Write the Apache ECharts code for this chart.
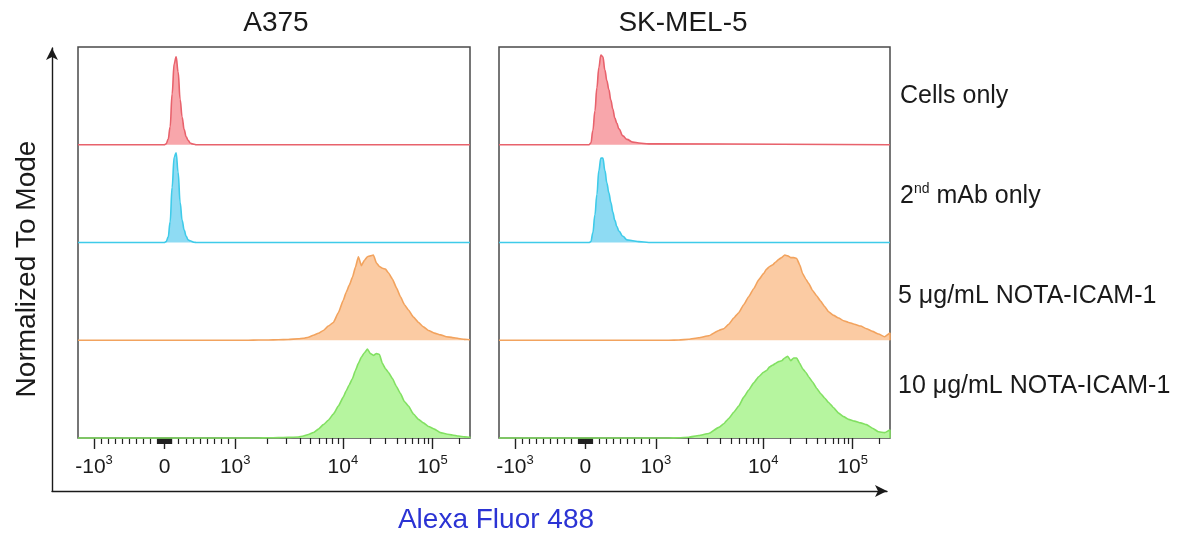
<!DOCTYPE html>
<html><head><meta charset="utf-8">
<script src="https://cdn.jsdelivr.net/npm/echarts@6/dist/echarts.min.js"></script>
<style>html,body{margin:0;padding:0;background:#fff}#c{width:1184px;height:537px}</style>
</head><body><div id="c"></div>
<script>
// ---------- text ----------
const panelTitles = ['A375', 'SK-MEL-5'];
const rowLabels = ['Cells only', '2nd mAb only', '5 μg/mL NOTA-ICAM-1', '10 μg/mL NOTA-ICAM-1'];
const yTitle = 'Normalized To Mode';
const xTitle = 'Alexa Fluor 488';

// ---------- axis (biexponential display) ----------
const axisMin = -1227;
const axisMax = 262144;
const majorTicks = [-1000, 0, 1000, 10000, 100000];
const majorTickLabels = [['-10', '3'], ['0', ''], ['10', '3'], ['10', '4'], ['10', '5']];
const minorTicks = [-900, -800, -700, -600, -500, -400, -300, -200, -100,
  -90, -80, -70, -60, -50, -40, -30, -20, -10, 10, 20, 30, 40, 50, 60, 70, 80, 90,
  100, 200, 300, 400, 500, 600, 700, 800, 900,
  2000, 3000, 4000, 5000, 6000, 7000, 8000, 9000,
  20000, 30000, 40000, 50000, 60000, 70000, 80000, 90000, 200000];

// ---------- histogram bins (fluorescence) ----------
const binsLow = [-7, 21, 50, 78, 106, 135, 163, 191, 220, 248, 277, 305, 333, 362, 390, 418, 447, 475, 532, 589, 674, 759, 901];
const binsHigh = [1070, 1320, 1640, 2030, 2510, 3110, 3860, 4290, 4780, 5320, 5920, 6590, 7330, 8160, 9080,
  10100, 10900, 11800, 12800, 13800, 14900, 16100, 17400, 18800, 20300, 21900, 23700, 25600, 27600, 29900,
  32200, 35700, 39600, 43900, 48700, 53900, 61400, 69800, 79300, 90200, 105000, 123000, 143000, 167000,
  195000, 228000, 262000];

// ---------- normalized counts (% of mode) ----------
const a375Cells = [0, 1, 6, 20, 57, 91, 99, 82, 51, 31, 17, 9, 5, 2, 1, 0.5, 0, 0, 0, 0, 0, 0, 0];
const a375Second = [0, 1, 6, 23, 62, 96, 101, 79, 45, 25, 14, 7, 3, 2, 1, 0.3, 0, 0, 0, 0, 0, 0, 0];
const a375Nota5 = [0, 0, 0.2, 0.3, 0.6, 0.9, 1.7, 2.2, 3.4, 5.6, 7.8, 11, 16, 20, 31, 45, 54, 62, 71, 82, 94, 84, 90, 94, 95,
  96, 87, 83, 81, 80, 76, 69, 59, 49, 40, 34, 26, 20, 15, 11, 8, 6, 4, 3, 2, 1, 0.6];
const a375Nota10 = [0, 0, 0, 0.2, 0.4, 0.7, 1.1, 2.2, 3.9, 6.2, 10, 15, 20, 27, 36, 46, 53, 60, 67, 76, 84, 91, 96, 100, 95,
  93, 95, 94, 84, 78, 74, 67, 58, 50, 41, 36, 27, 21, 17, 13, 10, 6, 4.5, 3.4, 2.2, 1.3, 0.8];
const skCells = [0, 0, 0, 2, 16, 38, 64, 87, 101, 99, 84, 72, 62, 50, 40, 30, 24, 18, 10, 6, 3, 2, 1];
const skSecond = [0, 0, 0, 1, 11, 31, 54, 81, 95, 95, 81, 67, 56, 45, 34, 25, 18, 13, 7, 3, 2, 1, 0];
const skNota5 = [0, 0, 0.3, 1.1, 2.8, 5, 11, 13, 18, 25, 31, 40, 49, 58, 68, 75, 80, 83, 85, 88, 91, 93, 96, 95, 93,
  93, 92, 85, 75, 69, 64, 56, 50, 44, 38, 32, 28, 25, 22, 20, 18, 16, 13, 10, 7, 4, 8];
const skNota10 = [0, 0, 0.2, 0.9, 2.8, 5, 12, 16, 22, 29, 36, 46, 54, 62, 69, 74, 76, 80, 82, 84, 86, 87, 90, 92, 87,
  90, 90, 84, 78, 74, 69, 63, 56, 50, 45, 40, 34, 28, 24, 21, 19, 17, 15, 11, 7, 6, 9];

// ---------- styles ----------
const lineColors = ['#e8626c', '#3fcbe9', '#f2a35e', '#82e062'];
const fillColors = ['#f8a6ab', '#8edbf3', '#fbcba3', '#b6f59f'];
const FONT = '"Liberation Sans", Arial, Helvetica, sans-serif';

// biexponential-like display transform (linear around 0, log above 10^3)
function biex(v) {
  if (v < 1000) return 86.5 + 0.0705 * v;
  const l = Math.log10(v);
  if (l <= 4) return 157 + 107.5 * (l - 3);
  return 264.5 + 89.5 * (l - 4);
}

const panelData = [
  [[binsLow, a375Cells], [binsLow, a375Second], [binsHigh, a375Nota5], [binsHigh, a375Nota10]],
  [[binsLow, skCells], [binsLow, skSecond], [binsHigh, skNota5], [binsHigh, skNota10]]
];

const panelLeft = [78, 499];
const panelWidth = [392, 391];
const panelTop = 47, panelHeight = 391;
const rowH = panelHeight / 4;

const grid = [], xAxis = [], yAxis = [], series = [];
const xMin = biex(axisMin), xMax = biex(axisMax);

// outer arrow axes
grid.push({ left: 52, top: 48, right: 1184 - 887, bottom: 537 - 491, show: false });
xAxis.push({ gridIndex: 0, type: 'value', min: 0, max: 1, axisLine: { show: true, onZero: false, symbol: ['none', 'arrow'], symbolSize: [9, 12], lineStyle: { color: '#1a1a1a', width: 1.4 } }, axisTick: { show: false }, axisLabel: { show: false }, splitLine: { show: false } });
yAxis.push({ gridIndex: 0, type: 'value', min: 0, max: 1, axisLine: { show: true, onZero: false, symbol: ['none', 'arrow'], symbolSize: [9, 12], lineStyle: { color: '#1a1a1a', width: 1.4 } }, axisTick: { show: false }, axisLabel: { show: false }, splitLine: { show: false } });

// panel frames
for (let p = 0; p < 2; p++) {
  const gi = grid.length;
  grid.push({ left: panelLeft[p], top: panelTop, width: panelWidth[p], height: panelHeight, show: true, borderColor: '#4a4a4a', borderWidth: 1.5, backgroundColor: 'transparent' });
  xAxis.push({ gridIndex: gi, type: 'value', min: 0, max: 1, show: false });
  yAxis.push({ gridIndex: gi, type: 'value', min: 0, max: 1, show: false });
}

const majorPos = majorTicks.map(biex);
function fmtMajor(val) {
  let best = 0, d = Infinity;
  majorPos.forEach((p, i) => { if (Math.abs(p - val) < d) { d = Math.abs(p - val); best = i; } });
  const lab = majorTickLabels[best];
  return '{b|' + lab[0] + '}' + (lab[1] ? '{s|' + lab[1] + '}' : '');
}

for (let p = 0; p < 2; p++) {
  for (let r = 0; r < 4; r++) {
    const gi = grid.length;
    grid.push({ left: panelLeft[p], top: panelTop + r * rowH, width: panelWidth[p], height: rowH, show: false });
    const isBottom = r === 3;
    const xi = xAxis.length;
    xAxis.push({
      gridIndex: gi, type: 'value', min: xMin, max: xMax, position: 'bottom',
      show: isBottom,
      axisLine: { show: false },
      splitLine: { show: false },
      axisTick: { show: isBottom, customValues: majorPos, length: 11, lineStyle: { color: '#222', width: 1.4 } },
      axisLabel: {
        show: isBottom, customValues: majorPos, margin: 16, formatter: fmtMajor,
        rich: {
          b: { fontFamily: FONT, fontSize: 21, color: '#1a1a1a', lineHeight: 26 },
          s: { fontFamily: FONT, fontSize: 13, color: '#1a1a1a', verticalAlign: 'top', lineHeight: 15 }
        }
      }
    });
    if (isBottom) {
      xAxis.push({
        gridIndex: gi, type: 'value', min: xMin, max: xMax, position: 'bottom',
        axisLine: { show: false }, splitLine: { show: false },
        axisTick: { show: true, customValues: minorTicks.map(biex), length: 6, lineStyle: { color: '#222', width: 1.2 } },
        axisLabel: { show: false }
      });
    }
    yAxis.push({ gridIndex: gi, type: 'value', min: 0, max: 110, show: false });
    const [bins, counts] = panelData[p][r];
    const data = [[xMin, 0]].concat(bins.map((b, i) => [biex(b), counts[i]]));
    if (data[data.length - 1][0] < xMax) data.push([xMax, 0]);
    series.push({
      type: 'line', xAxisIndex: xi, yAxisIndex: yAxis.length - 1,
      data: data, symbol: 'none',
      smooth: r < 2 ? 0.4 : 0.15, smoothMonotone: 'x',
      lineStyle: { color: lineColors[r], width: 1.6 },
      areaStyle: { color: fillColors[r], opacity: 1 },
      silent: true, animation: false, clip: false
    });
  }
}

const graphic = [
  { type: 'text', x: 276, y: 23, style: { text: panelTitles[0], font: '28px ' + FONT, fill: '#1a1a1a', align: 'center', verticalAlign: 'middle' } },
  { type: 'text', x: 683, y: 23, style: { text: panelTitles[1], font: '28px ' + FONT, fill: '#1a1a1a', align: 'center', verticalAlign: 'middle' } },
  { type: 'text', x: 900, y: 96, style: { text: rowLabels[0], font: '25px ' + FONT, fill: '#1a1a1a', align: 'left', verticalAlign: 'middle' } },
  { type: 'text', x: 900, y: 196, style: { text: '{a|2}{s|nd}{a| mAb only}', align: 'left', verticalAlign: 'middle',
      rich: { a: { font: '25px ' + FONT, fill: '#1a1a1a', lineHeight: 28 }, s: { font: '14px ' + FONT, fill: '#1a1a1a', verticalAlign: 'top', lineHeight: 16 } } } },
  { type: 'text', x: 898, y: 296, style: { text: rowLabels[2], font: '25px ' + FONT, fill: '#1a1a1a', align: 'left', verticalAlign: 'middle' } },
  { type: 'text', x: 898, y: 386, style: { text: rowLabels[3], font: '25px ' + FONT, fill: '#1a1a1a', align: 'left', verticalAlign: 'middle' } },
  { type: 'text', x: 27, y: 269, rotation: Math.PI / 2, style: { text: yTitle, font: '28px ' + FONT, fill: '#1a1a1a', align: 'center', verticalAlign: 'middle' } },
  { type: 'text', x: 496, y: 520, style: { text: xTitle, font: '28px ' + FONT, fill: '#2b33d4', align: 'center', verticalAlign: 'middle' } }
];

const chart = echarts.init(document.getElementById('c'), null, { renderer: 'canvas' });
chart.setOption({ animation: false, backgroundColor: '#fff', grid, xAxis, yAxis, series, graphic });
</script>
</body></html>
